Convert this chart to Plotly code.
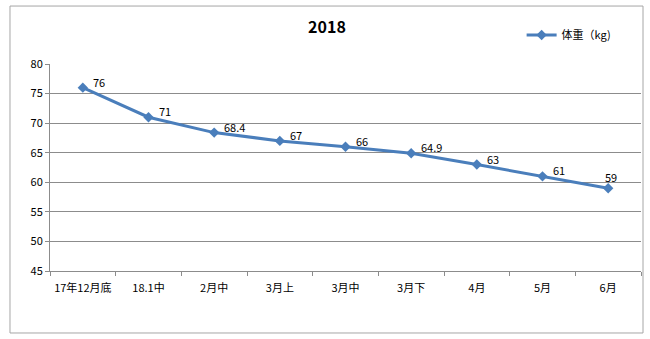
import plotly.graph_objects as go

# Weight log for 2018
periods = ["17年12月底", "18.1中", "2月中", "3月上", "3月中", "3月下", "4月", "5月", "6月"]
weight_kg = [76, 71, 68.4, 67, 66, 64.9, 63, 61, 59]
series_name = "体重（kg)"

FONT = "Noto Sans CJK SC, Liberation Sans, sans-serif"
LINE_BLUE = "#4A7EBB"
GRID = "#8C8C8C"

fig = go.Figure()
fig.add_trace(go.Scatter(
    x=periods,
    y=weight_kg,
    mode="lines+markers",
    name=series_name,
    line=dict(color=LINE_BLUE, width=3),
    marker=dict(symbol="diamond", size=8, color=LINE_BLUE),
    cliponaxis=False,
))

# Value labels beside each point; the last one sits above its point
for i, (p, v) in enumerate(zip(periods, weight_kg)):
    last = i == len(periods) - 1
    fig.add_annotation(
        x=p, y=v, xref="x", yref="y",
        text=f"{v:g}", showarrow=False,
        xanchor="center" if last else "left",
        yanchor="middle",
        xshift=3 if last else 8,
        yshift=11 if last else 6,
        font=dict(family=FONT, size=11, color="#000000"),
    )

# Outer chart frame (drawn in paper coordinates around the plot area)
fig.add_shape(type="rect", xref="paper", yref="paper",
              x0=-0.0677, x1=1.0034, y0=-0.2995, y1=1.280,
              line=dict(color="#A6A6A6", width=1), layer="below")

fig.update_layout(
    width=650, height=339,
    margin=dict(l=50, r=9, t=64, b=68),
    paper_bgcolor="white",
    plot_bgcolor="white",
    font=dict(family=FONT, size=11, color="#000000"),
    title=dict(text="<b>2018</b>", x=0.503, xanchor="center",
               y=1 - 27 / 339, yanchor="middle", yref="container",
               font=dict(family=FONT, size=16, color="#000000")),
    showlegend=True,
    legend=dict(x=0.798, y=1.14, xanchor="left", yanchor="middle",
                bgcolor="rgba(0,0,0,0)", font=dict(family=FONT, size=11),
                itemwidth=30),
    xaxis=dict(
        type="category",
        range=[-0.5, 8.5],
        showgrid=False,
        showline=True, linecolor=GRID, linewidth=1,
        ticks="outside", ticklen=4, tickcolor=GRID,
        tickson="boundaries",
        tickangle=0,
        ticklabelstandoff=7,
        tickfont=dict(family=FONT, size=11),
        fixedrange=True,
    ),
    yaxis=dict(
        range=[45, 80],
        dtick=5,
        showgrid=True, gridcolor=GRID, gridwidth=1,
        showline=True, linecolor=GRID, linewidth=1,
        ticks="outside", ticklen=4, tickcolor=GRID,
        zeroline=False,
        tickfont=dict(family=FONT, size=11),
        fixedrange=True,
    ),
)

fig.write_html("out.html")
